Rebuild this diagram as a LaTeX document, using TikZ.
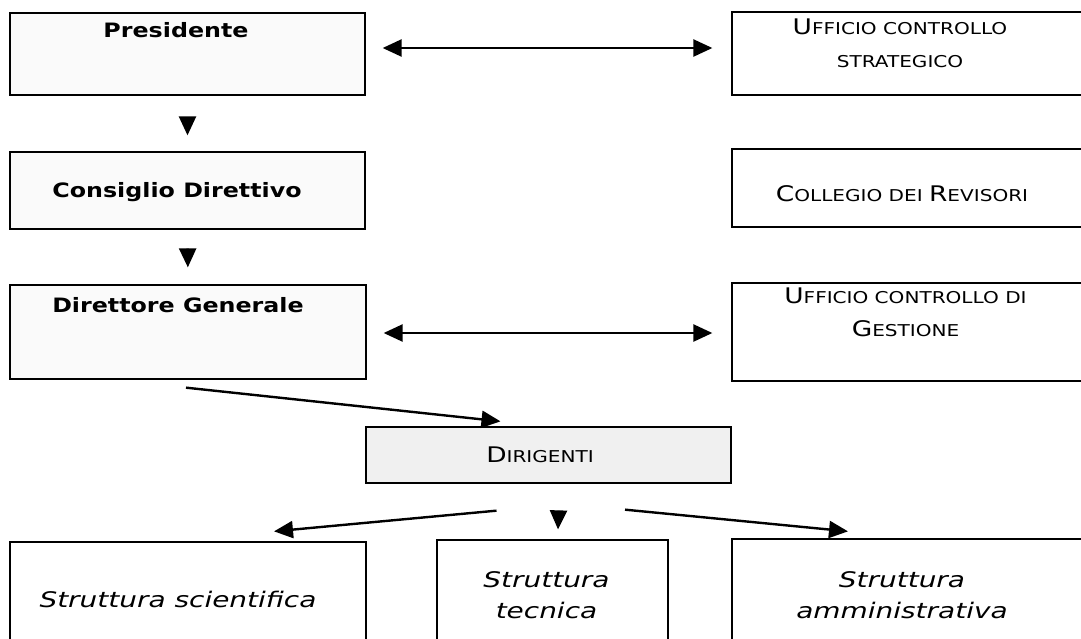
\documentclass[tikz,border=0pt]{standalone}
\usepackage{fontspec}
\usetikzlibrary{arrows.meta}
\newfontfamily\bffam{DejaVu Sans}[FakeStretch=1.2]
\newfontfamily\itfam{DejaVu Sans}[FakeStretch=1.3]
\newfontfamily\scfam{DejaVu Sans}[FakeStretch=1.23]
\newcommand\capL[1]{{\fontsize{21.5}{33}\selectfont #1}}
\begin{document}
\begin{tikzpicture}[x=1pt,y=-1pt,
  box/.style={draw=black, line width=1.3pt, rectangle, inner sep=0pt},
  lbox/.style={box, fill=gray!4},
  dbox/.style={box, fill=gray!12},
  bf/.style={font=\bffam\bfseries\fontsize{19.8}{23}\selectfont},
  itx/.style={font=\itfam\itshape\fontsize{21.5}{31}\selectfont, align=center},
  scx/.style={font=\scfam\fontsize{16.3}{33}\selectfont, align=center},
  arr/.style={line width=2.4pt, -{Triangle[length=19pt,width=17pt]}},
  darr/.style={line width=2.4pt, {Triangle[length=19pt,width=17pt]}-{Triangle[length=19pt,width=17pt]}}]
\useasboundingbox[fill=white] (0,0) rectangle (1081,638);

% left column
\node[lbox, minimum width=355pt, minimum height=82pt,
  label={[bf,xshift=-11.5pt,yshift=24pt]center:Presidente}] (pres) at (187.5,54) {};
\node[lbox, minimum width=355pt, minimum height=77pt,
  label={[bf,xshift=-10.5pt,yshift=-1.5pt]center:Consiglio Direttivo}] (cons) at (187.5,190.5) {};
\node[lbox, minimum width=356pt, minimum height=94pt,
  label={[bf,xshift=-10pt,yshift=27pt]center:Direttore Generale}] (dir) at (188,332) {};

% right column
\node[box, minimum width=353pt, minimum height=83pt,
  label={[scx,xshift=-8.5pt,yshift=10pt]center:\capL{U}FFICIO CONTROLLO\\STRATEGICO}] (ucs) at (908.5,53.5) {};
\node[box, minimum width=353pt, minimum height=78pt,
  label={[scx,xshift=-6.5pt,yshift=-6pt]center:\capL{C}OLLEGIO DEI \capL{R}EVISORI}] (col) at (908.5,188) {};
\node[box, minimum width=353pt, minimum height=98pt,
  label={[scx,xshift=-3pt,yshift=20pt]center:\capL{U}FFICIO CONTROLLO DI\\\capL{G}ESTIONE}] (ucg) at (908.5,332) {};

% dirigenti
\node[dbox, minimum width=365pt, minimum height=56pt,
  label={[scx,xshift=-8.5pt]center:\capL{D}IRIGENTI}] (dirig) at (548.5,455) {};

% bottom row (open at the bottom)
\node[box, minimum width=356pt, minimum height=118pt,
  label={[itx,xshift=-10pt,yshift=2pt]center:Struttura scientifica}] (ss) at (188,601) {};
\node[box, minimum width=231pt, minimum height=120pt,
  label={[itx,xshift=-6pt,yshift=4.5pt]center:Struttura\\tecnica}] (st) at (552.5,600) {};
\node[box, minimum width=353pt, minimum height=121pt,
  label={[itx,xshift=-6.5pt,yshift=4pt]center:Struttura\\amministrativa}] (sa) at (908.5,599.5) {};

% connectors
\draw[arr, shorten <=23pt, shorten >=16pt] (pres.south) -- (cons.north);
\draw[arr, shorten <=19pt, shorten >=17pt] (cons.south) -- (dir.north);
\draw[darr, shorten <=17pt, shorten >=19pt] ([yshift=6pt]pres.east) -- ([yshift=6pt]pres.east -| ucs.west);
\draw[darr, shorten <=17pt, shorten >=19pt] ([yshift=-1pt]dir.east) -- ([yshift=-1pt]dir.east -| ucg.west);
\draw[arr] ([shift={(-2pt,-8pt)}]dir.south) -- ([shift={(-48pt,5pt)}]dirig.north);
\draw[arr] ([shift={(-52pt,-27pt)}]dirig.south) -- ([shift={(86pt,10pt)}]ss.north);
\draw[arr] ([shift={(10pt,-28pt)}]dirig.south) -- ([shift={(5.5pt,10pt)}]st.north);
\draw[arr] ([shift={(76.5pt,-26pt)}]dirig.south) -- ([shift={(-60.5pt,7pt)}]sa.north);
\end{tikzpicture}
\end{document}
